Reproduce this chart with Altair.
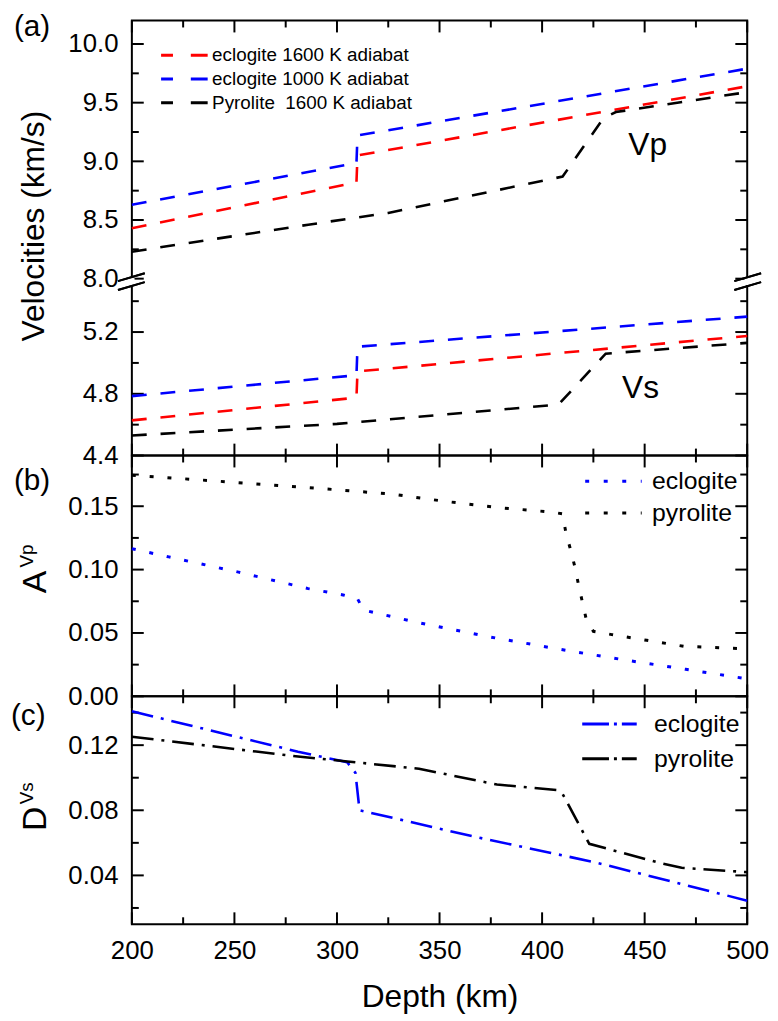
import altair as alt
import pandas as pd

# ---------------- data: panel (a) velocities ----------------
a_series = ["eclogite 1600 K adiabat", "eclogite 1000 K adiabat", "Pyrolite\u00a0 1600 K adiabat"]
a_colors = ["#ff0000", "#0000ff", "#000000"]

vp_e1600_depth = [200, 309.5, 310, 500]
vp_e1600 = [8.43, 8.82, 9.05, 9.64]
vp_e1000_depth = [200, 309.5, 310, 500]
vp_e1000 = [8.63, 8.985, 9.22, 9.79]
vp_pyr_depth = [200, 286, 325, 410, 430, 436, 500]
vp_pyr = [8.23, 8.46, 8.56, 8.87, 9.37, 9.42, 9.59]

vs_e1600_depth = [200, 309.5, 310, 500]
vs_e1600 = [4.628, 4.775, 4.945, 5.175]
vs_e1000_depth = [200, 309.5, 310, 500]
vs_e1000 = [4.785, 4.92, 5.105, 5.30]
vs_pyr_depth = [200, 300, 408, 431, 500]
vs_pyr = [4.53, 4.605, 4.73, 5.06, 5.13]

ann_labels = ["Vp", "Vs"]
ann_depth = [442, 439]
ann_value = [9.05, 4.774]

# ---------------- data: panel (b) A^Vp ----------------
b_series = ["eclogite", "pyrolite"]
b_colors = ["#0000ff", "#000000"]
avp_ecl_depth = [200, 218, 252, 286, 303, 310, 313, 340, 374, 409, 443, 470, 500]
avp_ecl = [0.1165, 0.110, 0.098, 0.085, 0.080, 0.077, 0.068, 0.058, 0.047, 0.037, 0.028, 0.0213, 0.0138]
avp_pyr_depth = [200, 240, 274, 300, 327, 352, 378, 404, 410, 411.6, 414, 416, 417.7, 419.6,
                 421.5, 425, 434, 451, 469, 500]
avp_pyr = [0.1745, 0.170, 0.166, 0.163, 0.1595, 0.154, 0.149, 0.1455, 0.144, 0.129, 0.115, 0.102,
           0.0885, 0.0747, 0.061, 0.0513, 0.0487, 0.0442, 0.0395, 0.0375]

# ---------------- data: panel (c) D^Vs ----------------
c_series = ["eclogite", "pyrolite"]
c_colors = ["#0000ff", "#000000"]
dvs_ecl_depth = [200, 281, 305, 309, 311, 368, 426, 500]
dvs_ecl = [0.1408, 0.116, 0.1095, 0.103, 0.080, 0.0635, 0.048, 0.0245]
dvs_pyr_depth = [200, 281, 305, 340, 378, 407, 410, 423, 457, 468, 500]
dvs_pyr = [0.1252, 0.113, 0.110, 0.1055, 0.0958, 0.0925, 0.090, 0.0594, 0.0478, 0.0447, 0.042]

# ---------------- ticks ----------------
x_major = [200, 250, 300, 350, 400, 450, 500]
x_minor = [225, 275, 325, 375, 425, 475]
a_major = [4.4, 4.8, 5.2, 8.0, 8.5, 9.0, 9.5, 10.0]
a_minor = [4.6, 5.0, 5.4, 8.25, 8.75, 9.25, 9.75]
b_major = [0.0, 0.05, 0.10, 0.15]
b_minor = [0.025, 0.075, 0.125, 0.175]
c_major = [0.04, 0.08, 0.12]
c_minor = [0.02, 0.06, 0.10, 0.14]

FONT = "Liberation Sans"
W = 621
HA, HB, HC = 439, 243, 230
BREAK = 265
MAJ, MIN = 12, 7
SYM = 16  # nominal legend symbol box (px)


def make_df(parts):
    rows = []
    for series, key, depths, values in parts:
        for i, (d, v) in enumerate(zip(depths, values)):
            rows.append({"series": series, "key": key, "depth": d, "value": v, "idx": i})
    return pd.DataFrame(rows)


df_a = make_df([
    (a_series[0], "e1600_vp", vp_e1600_depth, vp_e1600),
    (a_series[1], "e1000_vp", vp_e1000_depth, vp_e1000),
    (a_series[2], "pyr_vp", vp_pyr_depth, vp_pyr),
    (a_series[0], "e1600_vs", vs_e1600_depth, vs_e1600),
    (a_series[1], "e1000_vs", vs_e1000_depth, vs_e1000),
    (a_series[2], "pyr_vs", vs_pyr_depth, vs_pyr),
])
df_b = make_df([
    (b_series[0], "ecl", avp_ecl_depth, avp_ecl),
    (b_series[1], "pyr", avp_pyr_depth, avp_pyr),
])
df_c = make_df([
    (c_series[0], "ecl", dvs_ecl_depth, dvs_ecl),
    (c_series[1], "pyr", dvs_pyr_depth, dvs_pyr),
])
df_ann = pd.DataFrame({"label": ann_labels, "depth": ann_depth, "value": ann_value})

xscale = alt.Scale(domain=[200, 500], nice=False, zero=False)
ya_scale = alt.Scale(domain=[4.4, 5.517, 7.962, 10.2], range=[HA, BREAK, BREAK, 0], nice=False, zero=False)
yb_scale = alt.Scale(domain=[0.0, 0.19], nice=False, zero=False)
yc_scale = alt.Scale(domain=[0.01, 0.15], nice=False, zero=False)


def tick_layers(yscale, H, ymaj, ymin):
    """Inward ticks on all four sides, placed through the scales."""
    layers = []
    for vals, L in [(ymaj, MAJ), (ymin, MIN)]:
        d = pd.DataFrame({"v": vals})
        layers.append(alt.Chart(d).mark_rule(color="black", strokeWidth=2).encode(
            y=alt.Y("v:Q", scale=yscale, axis=None), x=alt.value(0), x2=alt.value(L)))
        layers.append(alt.Chart(d).mark_rule(color="black", strokeWidth=2).encode(
            y=alt.Y("v:Q", scale=yscale, axis=None), x=alt.value(W - L), x2=alt.value(W)))
    for vals, L in [(x_major, MAJ), (x_minor, MIN)]:
        d = pd.DataFrame({"v": vals})
        layers.append(alt.Chart(d).mark_rule(color="black", strokeWidth=2).encode(
            x=alt.X("v:Q", scale=xscale, axis=None), y=alt.value(0), y2=alt.value(L)))
        layers.append(alt.Chart(d).mark_rule(color="black", strokeWidth=2).encode(
            x=alt.X("v:Q", scale=xscale, axis=None), y=alt.value(H - L), y2=alt.value(H)))
    return layers


def label_text(txt, x, y, size=30, angle=0):
    return alt.Chart(pd.DataFrame({"t": [txt]})).mark_text(
        font=FONT, fontSize=size, align="left", baseline="alphabetic", angle=angle, color="black"
    ).encode(x=alt.value(x), y=alt.value(y), text="t:N")


def y_label_axis(values, fmt, title=None, **kw):
    return alt.Axis(orient="left", values=values, format=fmt, ticks=False, tickSize=0, domain=False,
                    grid=False, labelPadding=14, labelFlush=False, labelOverlap=False,
                    title=title, **kw)


def line_legend(left, row1, length, gap, dash, font_size, row_pad):
    """Legend whose line sample is `length` px long, starting at x=left, label `gap` px after it."""
    k = length / SYM
    return alt.Legend(
        title=None, orient="none",
        legendX=left - (SYM / 2 - length / 2), legendY=row1 - font_size / 2,
        symbolType=f"M-{k:.3f},0H{k:.3f}", symbolSize=SYM ** 2, symbolStrokeWidth=3,
        symbolDash=dash, symbolFillColor="transparent",
        labelFont=FONT, labelFontSize=font_size, labelColor="black",
        labelOffset=length / 2 + gap - SYM / 2, rowPadding=row_pad, padding=0, labelLimit=500,
    )


# ---------------- panel (a) ----------------
lines_a = alt.Chart(df_a).mark_line(strokeWidth=2.6, strokeDash=[15, 14]).encode(
    x=alt.X("depth:Q", scale=xscale, axis=None),
    y=alt.Y("value:Q", scale=ya_scale,
            axis=y_label_axis(a_major, ".1f", "Velocities (km/s)", titleX=-89, titleY=207,
                              titleAngle=270, titleAlign="center", titleBaseline="alphabetic")),
    color=alt.Color("series:N", scale=alt.Scale(domain=a_series, range=a_colors),
                    legend=line_legend(28, 35, 47, 3, [12, 18, 17, 10], 19, 4)),
    detail="key:N",
    order="idx:Q",
)
ann_a = alt.Chart(df_ann).mark_text(font=FONT, fontSize=32, align="left", baseline="alphabetic",
                                    color="black").encode(
    x=alt.X("depth:Q", scale=xscale, axis=None),
    y=alt.Y("value:Q", scale=ya_scale, axis=None),
    text="label:N",
)
break_layers = [
    alt.Chart(df_ann).mark_rule(color="white", strokeWidth=5).encode(
        x=alt.value(0), y=alt.value(260), y2=alt.value(267)),
    alt.Chart(df_ann).mark_rule(color="white", strokeWidth=5).encode(
        x=alt.value(W), y=alt.value(260), y2=alt.value(267)),
    alt.Chart(df_ann).mark_rule(color="black", strokeWidth=2).encode(
        x=alt.value(-14), x2=alt.value(13), y=alt.value(263), y2=alt.value(255)),
    alt.Chart(df_ann).mark_rule(color="black", strokeWidth=2).encode(
        x=alt.value(-14), x2=alt.value(13), y=alt.value(272), y2=alt.value(264)),
    alt.Chart(df_ann).mark_rule(color="black", strokeWidth=2).encode(
        x=alt.value(W - 13), x2=alt.value(W + 14), y=alt.value(263), y2=alt.value(255)),
    alt.Chart(df_ann).mark_rule(color="black", strokeWidth=2).encode(
        x=alt.value(W - 13), x2=alt.value(W + 14), y=alt.value(272), y2=alt.value(264)),
]
panel_a = alt.layer(
    *tick_layers(ya_scale, HA, a_major, a_minor),
    lines_a, ann_a, *break_layers,
    label_text("(a)", -119, 16),
).resolve_axis(x="independent", y="independent").properties(width=W, height=HA)

# ---------------- panel (b) ----------------
lines_b = alt.Chart(df_b).mark_line(strokeWidth=3, strokeDash=[4, 14]).encode(
    x=alt.X("depth:Q", scale=xscale, axis=None),
    y=alt.Y("value:Q", scale=yb_scale, axis=y_label_axis(b_major, ".2f")),
    color=alt.Color("series:N", scale=alt.Scale(domain=b_series, range=b_colors),
                    legend=line_legend(453, 26, 57, 6, [4, 14.7], 25, 6)),
    detail="key:N",
    order="idx:Q",
)
panel_b = alt.layer(
    *tick_layers(yb_scale, HB, b_major, b_minor),
    lines_b,
    label_text("(b)", -119, 35),
    label_text("A", -87, 139, size=34, angle=270),
    label_text("Vp", -100, 113, size=19, angle=270),
).resolve_axis(x="independent", y="independent").properties(width=W, height=HB)

# ---------------- panel (c) ----------------
lines_c = alt.Chart(df_c).mark_line(strokeWidth=2.6, strokeDash=[22, 8, 3, 8]).encode(
    x=alt.X("depth:Q", scale=xscale,
            axis=alt.Axis(orient="bottom", values=x_major, format="d", ticks=False, tickSize=0,
                          domain=False, grid=False, labelPadding=14, labelFlush=False,
                          labelOverlap=False, title="Depth (km)", titleX=W / 2, titleY=83,
                          titleAlign="center", titleBaseline="alphabetic")),
    y=alt.Y("value:Q", scale=yc_scale, axis=y_label_axis(c_major, ".2f")),
    color=alt.Color("series:N", scale=alt.Scale(domain=c_series, range=c_colors),
                    legend=line_legend(450, 28, 55, 13, [27, 5, 3, 5, 20], 25, 9)),
    detail="key:N",
    order="idx:Q",
)
panel_c = alt.layer(
    *tick_layers(yc_scale, HC, c_major, c_minor),
    lines_c,
    label_text("(c)", -122, 29),
    label_text("D", -87, 136, size=34, angle=270),
    label_text("Vs", -100, 109, size=19, angle=270),
).resolve_axis(x="independent", y="independent").properties(width=W, height=HC)

chart = alt.vconcat(panel_a, panel_b, panel_c, spacing=0, bounds="flush").resolve_scale(
    color="independent"
).properties(
    padding={"left": 2, "top": -1, "right": 0, "bottom": 2}
).configure_view(
    stroke="black", strokeWidth=2
).configure_axis(
    labelFont=FONT, labelFontSize=26, labelColor="black",
    titleFont=FONT, titleFontSize=32, titleFontWeight="normal", titleColor="black",
)

chart.save("out.html", embed_options={"renderer": "svg", "actions": False})
